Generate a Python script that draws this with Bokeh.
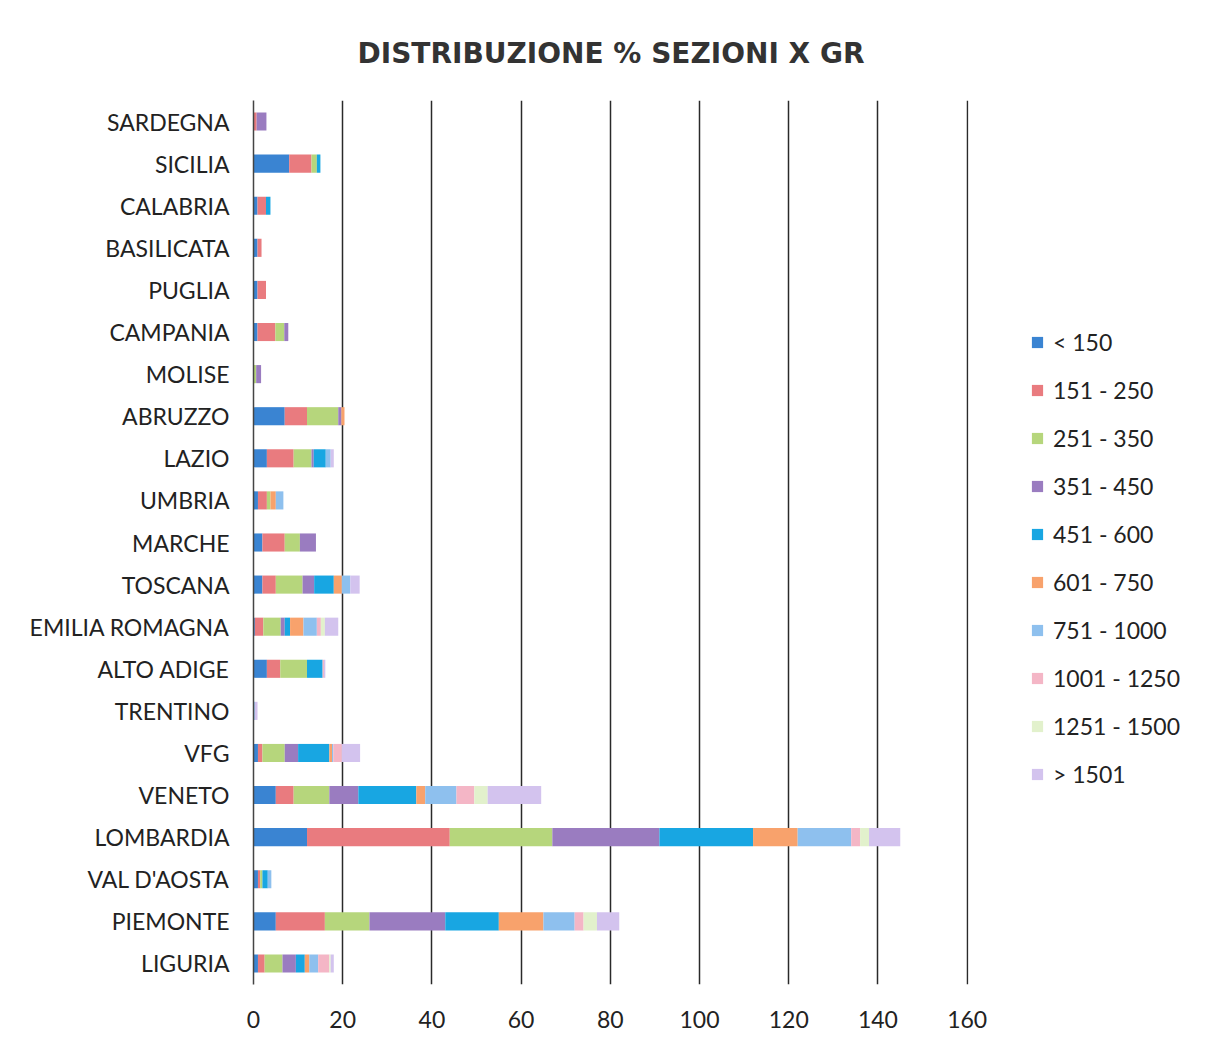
from bokeh.plotting import figure
from bokeh.models import ColumnDataSource, Legend, LegendItem, Range1d, FactorRange, FixedTicker
from bokeh.embed import file_html
from bokeh.resources import INLINE

regions = ["LIGURIA", "PIEMONTE", "VAL D'AOSTA", "LOMBARDIA", "VENETO", "VFG", "TRENTINO",
           "ALTO ADIGE", "EMILIA ROMAGNA", "TOSCANA", "MARCHE", "UMBRIA", "LAZIO", "ABRUZZO",
           "MOLISE", "CAMPANIA", "PUGLIA", "BASILICATA", "CALABRIA", "SICILIA", "SARDEGNA"]

series_labels = ["< 150", "151 - 250", "251 - 350", "351 - 450", "451 - 600", "601 - 750",
                 "751 - 1000", "1001 - 1250", "1251 - 1500", "> 1501"]

#            LIG  PIE  VDA  LOM  VEN  VFG  TRE  AA   EMR  TOS  MAR  UMB  LAZ  ABR  MOL  CAM  PUG  BAS  CAL  SIC  SAR
s_lt150   = [1.0, 5.0, 1.0, 12.0, 5.0, 1.0, 0.0, 3.0, 0.3, 2.0, 2.0, 1.0, 3.0, 7.0, 0.0, 0.9, 0.9, 0.9, 0.9, 8.0, 0.0]
s_151_250 = [1.5, 11.0, 0.5, 32.0, 4.0, 1.0, 0.0, 3.0, 1.9, 3.0, 5.0, 2.0, 6.0, 5.0, 0.0, 4.0, 1.9, 0.9, 1.9, 5.0, 0.7]
s_251_350 = [4.0, 10.0, 0.5, 23.0, 8.0, 5.0, 0.0, 6.0, 3.9, 6.0, 3.4, 0.8, 4.0, 7.0, 0.6, 2.0, 0.0, 0.0, 0.0, 1.2, 0.0]
s_351_450 = [3.0, 17.0, 0.0, 24.0, 6.5, 3.0, 0.0, 0.0, 0.9, 2.6, 3.6, 0.0, 0.5, 0.7, 1.1, 0.9, 0.0, 0.0, 0.0, 0.0, 2.2]
s_451_600 = [2.0, 12.0, 1.2, 21.0, 13.0, 7.0, 0.0, 3.5, 1.2, 4.4, 0.0, 0.0, 2.7, 0.0, 0.0, 0.0, 0.0, 0.0, 1.0, 0.8, 0.0]
s_601_750 = [1.0, 10.0, 0.0, 10.0, 2.0, 0.6, 0.0, 0.0, 3.0, 1.8, 0.0, 1.2, 0.0, 0.7, 0.0, 0.0, 0.0, 0.0, 0.0, 0.0, 0.0]
s_751_1000 = [2.0, 7.0, 0.8, 12.0, 7.0, 0.3, 0.3, 0.0, 3.0, 1.9, 0.0, 1.7, 1.1, 0.0, 0.0, 0.0, 0.0, 0.0, 0.0, 0.0, 0.0]
s_1001_1250 = [2.5, 2.0, 0.0, 2.0, 4.0, 1.9, 0.0, 0.3, 0.9, 0.0, 0.0, 0.0, 0.0, 0.0, 0.0, 0.0, 0.0, 0.0, 0.0, 0.0, 0.0]
s_1251_1500 = [0.3, 3.0, 0.0, 2.0, 3.0, 0.0, 0.0, 0.0, 0.9, 0.0, 0.0, 0.0, 0.0, 0.0, 0.0, 0.0, 0.0, 0.0, 0.0, 0.0, 0.0]
s_gt1501  = [0.7, 5.0, 0.0, 7.0, 12.0, 4.1, 0.6, 0.3, 3.0, 2.1, 0.0, 0.0, 0.7, 0.0, 0.0, 0.0, 0.0, 0.0, 0.0, 0.0, 0.0]

x_ticks = [0, 20, 40, 60, 80, 100, 120, 140, 160]

colors = ["#3a84d2", "#e97b7f", "#b6d67c", "#9a7cc0", "#18a6e2", "#f8a26c",
          "#8ec0ee", "#f4b6c6", "#e2f1cc", "#d3c3ee"]

keys = ["s0", "s1", "s2", "s3", "s4", "s5", "s6", "s7", "s8", "s9"]
all_series = [s_lt150, s_151_250, s_251_350, s_351_450, s_451_600, s_601_750,
              s_751_1000, s_1001_1250, s_1251_1500, s_gt1501]
data = {"region": regions}
for k, s in zip(keys, all_series):
    data[k] = s
source = ColumnDataSource(data)

p = figure(y_range=FactorRange(factors=regions, range_padding=0),
           x_range=Range1d(0, 160.3),
           width=1189, height=1038, frame_width=715, frame_height=884,
           min_border_left=253, min_border_top=100, min_border_bottom=54, min_border_right=10,
           output_backend="svg", toolbar_location=None)

renderers = p.hbar_stack(keys, y="region", height=0.43, color=colors, line_color=None, source=source)

items = [LegendItem(label=lab, renderers=[r]) for lab, r in zip(series_labels, renderers)]
legend = Legend(items=items, location=(62, 196), margin=0,
                glyph_width=14, glyph_height=14, label_height=20, spacing=20,
                label_text_font="Lato", label_text_font_size="23px", label_text_color="#222222",
                label_standoff=9, border_line_color=None, background_fill_alpha=0, padding=0)
p.add_layout(legend, "right")

p.title.text = "DISTRIBUZIONE % SEZIONI X GR"
p.title.align = "center"
p.title.text_font = "DejaVu Sans"
p.title.text_font_style = "bold"
p.title.text_font_size = "28px"
p.title.text_color = "#333333"
p.title.standoff = 62

p.xaxis.ticker = FixedTicker(ticks=x_ticks)
p.xaxis.axis_line_color = None
p.xaxis.major_tick_line_color = None
p.xaxis.minor_tick_line_color = None
p.xaxis.major_tick_out = 0
p.xaxis.major_label_standoff = 26
p.xaxis.major_label_text_font = "Lato"
p.xaxis.major_label_text_font_size = "23px"
p.xaxis.major_label_text_color = "#222222"

p.yaxis.axis_line_color = "#444444"
p.yaxis.axis_line_width = 1.5
p.yaxis.major_tick_line_color = None
p.yaxis.major_tick_out = 0
p.yaxis.major_label_standoff = 24
p.yaxis.major_label_text_font = "Lato"
p.yaxis.major_label_text_font_size = "23px"
p.yaxis.major_label_text_color = "#222222"

p.xgrid.ticker = FixedTicker(ticks=x_ticks)
p.xgrid.grid_line_color = "#2a2a2a"
p.xgrid.grid_line_width = 1.5
p.ygrid.grid_line_color = None
p.outline_line_color = None

open("out.html", "w").write(file_html(p, INLINE))
